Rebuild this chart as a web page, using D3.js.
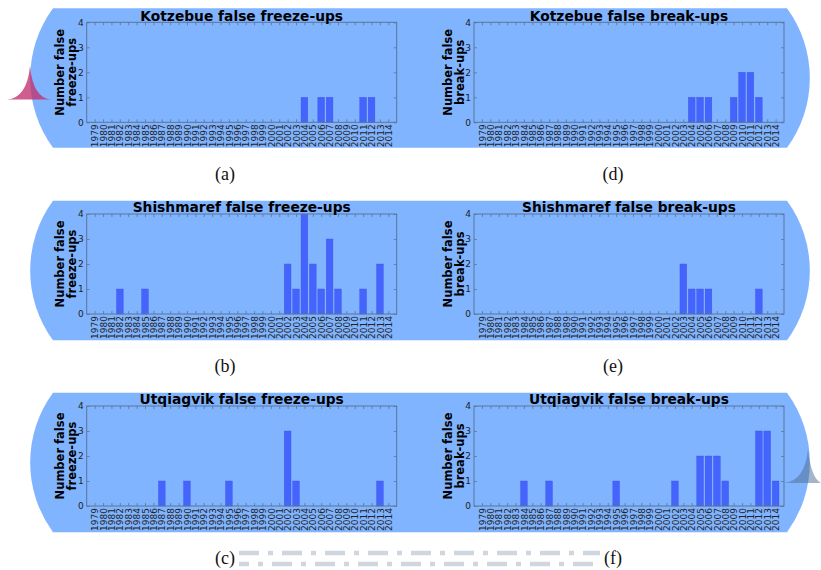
<!DOCTYPE html>
<html>
<head>
<meta charset="utf-8">
<script src="https://cdn.jsdelivr.net/npm/d3@7"></script>
<style>
  body { margin: 0; background: #fff; }
  svg { display: block; }
</style>
</head>
<body>
<svg id="chart" width="821" height="570"></svg>
<script>
// Data
const years = [1979,
  1980, 1981, 1982, 1983, 1984, 1985, 1986, 1987, 1988, 1989,
  1990, 1991, 1992, 1993, 1994, 1995, 1996, 1997, 1998, 1999,
  2000, 2001, 2002, 2003, 2004, 2005, 2006, 2007, 2008, 2009,
  2010, 2011, 2012, 2013, 2014];
const yTicks = [0, 1, 2, 3, 4];

const kotzebueFreeze = [0,
  0, 0, 0, 0, 0, 0, 0, 0, 0, 0,
  0, 0, 0, 0, 0, 0, 0, 0, 0, 0,
  0, 0, 0, 0, 1, 0, 1, 1, 0, 0,
  0, 1, 1, 0, 0];
const kotzebueBreak = [0,
  0, 0, 0, 0, 0, 0, 0, 0, 0, 0,
  0, 0, 0, 0, 0, 0, 0, 0, 0, 0,
  0, 0, 0, 0, 1, 1, 1, 0, 0, 1,
  2, 2, 1, 0, 0];
const shishmarefFreeze = [0,
  0, 0, 1, 0, 0, 1, 0, 0, 0, 0,
  0, 0, 0, 0, 0, 0, 0, 0, 0, 0,
  0, 0, 2, 1, 4, 2, 1, 3, 1, 0,
  0, 1, 0, 2, 0];
const shishmarefBreak = [0,
  0, 0, 0, 0, 0, 0, 0, 0, 0, 0,
  0, 0, 0, 0, 0, 0, 0, 0, 0, 0,
  0, 0, 0, 2, 1, 1, 1, 0, 0, 0,
  0, 0, 1, 0, 0];
const utqiagvikFreeze = [0,
  0, 0, 0, 0, 0, 0, 0, 1, 0, 0,
  1, 0, 0, 0, 0, 1, 0, 0, 0, 0,
  0, 0, 3, 1, 0, 0, 0, 0, 0, 0,
  0, 0, 0, 1, 0];
const utqiagvikBreak = [0,
  0, 0, 0, 0, 1, 0, 0, 1, 0, 0,
  0, 0, 0, 0, 0, 1, 0, 0, 0, 0,
  0, 0, 1, 0, 0, 2, 2, 2, 1, 0,
  0, 0, 3, 3, 1];

const panels = [
  { title: "Kotzebue false freeze-ups", ylab: ["Number false", "freeze-ups"], values: kotzebueFreeze, tag: "(a)", col: 0, row: 0 },
  { title: "Kotzebue false break-ups", ylab: ["Number false", "break-ups"], values: kotzebueBreak, tag: "(d)", col: 1, row: 0 },
  { title: "Shishmaref false freeze-ups", ylab: ["Number false", "freeze-ups"], values: shishmarefFreeze, tag: "(b)", col: 0, row: 1 },
  { title: "Shishmaref false break-ups", ylab: ["Number false", "break-ups"], values: shishmarefBreak, tag: "(e)", col: 1, row: 1 },
  { title: "Utqiagvik false freeze-ups", ylab: ["Number false", "freeze-ups"], values: utqiagvikFreeze, tag: "(c)", col: 0, row: 2 },
  { title: "Utqiagvik false break-ups", ylab: ["Number false", "break-ups"], values: utqiagvikBreak, tag: "(f)", col: 1, row: 2 }
];

// Layout
const colLeft = [86.7, 474];
const plotW = 310;
const rowTop = [22.3, 214, 406];
const plotH = 100;
const bgTop = [8.3, 200.7, 392.7];
const bgH = 139.5;
const tagY = [180, 371.5, 564];

const barFill = "#4563fd";
const bgFill = "#80b4ff";
const spine = "#5c7499";
const font = "'DejaVu Sans', sans-serif";

const svg = d3.select("#chart");

// Blue rounded backgrounds, one per row
bgTop.forEach(t => {
  const b = t + bgH;
  svg.append("path")
    .attr("d", `M53,${t} L787,${t} A118,118 0 0 1 787,${b} L53,${b} A118,118 0 0 1 53,${t} Z`)
    .attr("fill", bgFill);
});

// decorative shapes
svg.append("path")
  .attr("d", "M7,99.5 Q27,98 30,66 Q33,98 51,99.5 Z")
  .attr("fill", "#c2306e")
  .attr("opacity", 0.78);
svg.append("path")
  .attr("d", "M784,483 Q805,481 808,449 Q811,478 821,483 Z")
  .attr("fill", "#4d6a90")
  .attr("opacity", 0.5);

panels.forEach(p => {
  const left = colLeft[p.col];
  const top = rowTop[p.row];

  const x = d3.scaleLinear().domain([1978.05, 2015]).range([left, left + plotW]);
  const y = d3.scaleLinear().domain([0, 4]).range([top + plotH, top]);
  const bw = x(1979.8) - x(1979);

  const g = svg.append("g");

  // Bars
  g.selectAll(".bar")
    .data(years.map((yr, i) => ({ yr, v: p.values[i] })).filter(d => d.v > 0))
    .enter()
    .append("rect")
    .attr("class", "bar")
    .attr("x", d => x(d.yr) - bw / 2)
    .attr("y", d => y(d.v))
    .attr("width", bw)
    .attr("height", d => y(0) - y(d.v))
    .attr("fill", barFill)
    .attr("stroke", "#3d58e0")
    .attr("stroke-width", 0.4);

  // Frame
  g.append("rect")
    .attr("x", left).attr("y", top)
    .attr("width", plotW).attr("height", plotH)
    .attr("fill", "none")
    .attr("stroke", spine)
    .attr("stroke-width", 1);

  // Axes
  const xb = g.append("g")
    .attr("transform", `translate(0,${top + plotH})`)
    .call(d3.axisBottom(x).tickValues(years).tickSize(-3).tickPadding(2).tickFormat(d3.format("d")));
  xb.selectAll("text")
    .attr("transform", "rotate(-90)")
    .attr("x", -2)
    .attr("y", 0)
    .attr("dy", "0.35em")
    .attr("text-anchor", "end");

  const xt = g.append("g")
    .attr("transform", `translate(0,${top})`)
    .call(d3.axisTop(x).tickValues(years).tickSize(-3).tickFormat(""));

  const yl = g.append("g")
    .attr("transform", `translate(${left},0)`)
    .call(d3.axisLeft(y).tickValues(yTicks).tickSize(-3).tickPadding(3).tickFormat(d3.format("d")));

  const yr = g.append("g")
    .attr("transform", `translate(${left + plotW},0)`)
    .call(d3.axisRight(y).tickValues(yTicks).tickSize(-3).tickFormat(""));

  [xb, xt, yl, yr].forEach(a => {
    a.select(".domain").remove();
    a.selectAll("line").attr("stroke", spine).attr("stroke-width", 0.8);
    a.selectAll("text")
      .attr("fill", "#222")
      .style("font-family", font)
      .style("font-size", "9px");
  });

  // Title
  g.append("text")
    .attr("x", left + plotW / 2)
    .attr("y", top - 1.8)
    .attr("text-anchor", "middle")
    .style("font-family", font)
    .style("font-weight", "bold")
    .style("font-size", "13.8px")
    .attr("fill", "#000")
    .text(p.title);

  // Y label (two lines)
  const cy = top + plotH / 2;
  p.ylab.forEach((line, i) => {
    g.append("text")
      .attr("transform", `translate(${left - 26.5 + i * 12},${cy}) rotate(-90)`)
      .attr("text-anchor", "middle")
      .attr("dy", "0.35em")
      .style("font-family", font)
      .style("font-weight", "bold")
      .style("font-size", "11.5px")
      .attr("fill", "#000")
      .text(line);
  });

  // Sub caption
  svg.append("text")
    .attr("x", p.col === 0 ? 225 : 613)
    .attr("y", tagY[p.row])
    .attr("text-anchor", "middle")
    .style("font-family", "'Liberation Serif', serif")
    .style("font-size", "18px")
    .attr("fill", "#111")
    .text(p.tag);
});

// dash-dot strips along the bottom
[{ y: 553, off: 0 }, { y: 564, off: 10 }].forEach(s => {
  svg.append("line")
    .attr("x1", 239).attr("x2", 600)
    .attr("y1", s.y).attr("y2", s.y)
    .attr("stroke", "#d0d6de")
    .attr("stroke-width", 4.5)
    .attr("stroke-dasharray", "20 9 5 9")
    .attr("stroke-dashoffset", s.off);
});
</script>
</body>
</html>
